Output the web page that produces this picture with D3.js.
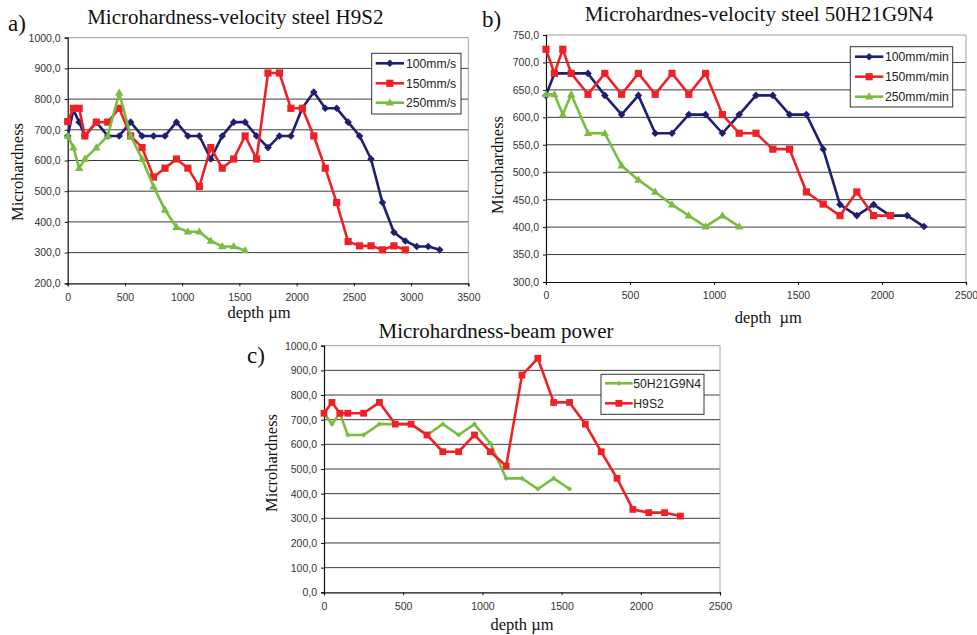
<!DOCTYPE html>
<html><head><meta charset="utf-8">
<script src="https://cdn.jsdelivr.net/npm/d3@7"></script>
<style>body{margin:0;background:#fff}</style>
</head><body>
<svg id="chart" width="977" height="635"></svg>
<script>
// ---------- DATA ----------
// Chart a) Microhardness-velocity steel H9S2
const aX100 = [0,50,100,150,250,350,450,550,650,750,850,950,1050,1150,1250,1350,1450,1550,1650,1750,1850,1950,2050,2150,2250,2350,2450,2550,2650,2750,2850,2950,3050,3150,3250];
const aY100 = [680,765,725,680,725,680,680,725,680,680,680,725,680,680,605,680,725,725,680,642,680,680,770,823,770,770,725,680,605,463,366,338,320,320,309];
const aX150 = [0,50,100,150,250,350,450,550,650,750,850,950,1050,1150,1250,1350,1450,1550,1650,1750,1850,1950,2050,2150,2250,2350,2450,2550,2650,2750,2850,2950];
const aY150 = [727,770,770,680,725,725,770,680,642,546,575,605,575,515,642,575,605,680,605,885,885,770,770,680,575,463,336,322,322,309,322,309];
const aX250 = [0,50,100,150,250,350,450,550,650,750,850,950,1050,1150,1250,1350,1450,1550];
const aY250 = [680,642,575,605,642,680,820,680,605,515,439,383,368,368,338,320,320,307];
const aLabels = ["100mm/s","150mm/s","250mm/s"];
const aXTicks = [0,500,1000,1500,2000,2500,3000,3500];
const aYTicks = [200,300,400,500,600,700,800,900,1000];

// Chart b) Microhardnes-velocity steel 50H21G9N4
const bX100 = [0,50,150,250,350,450,550,650,750,850,950,1050,1150,1250,1350,1450,1550,1650,1750,1850,1950,2050,2150,2250];
const bY100 = [640,680,680,680,640,605,640,571,571,605,605,571,605,640,640,605,605,542,441,421,441,421,421,401];
const bX150 = [0,50,100,150,250,350,450,550,650,750,850,950,1050,1150,1250,1350,1450,1550,1650,1750,1850,1950,2050];
const bY150 = [724,680,724,680,642,680,642,680,642,680,642,680,605,571,571,542,542,464,442,421,464,421,421];
const bX250 = [0,50,100,150,250,350,450,550,650,750,850,950,1050,1150];
const bY250 = [642,642,605,642,571,571,512,486,464,441,421,401,421,401];
const bLabels = ["100mm/min","150mm/min","250mm/min"];
const bXTicks = [0,500,1000,1500,2000,2500];
const bYTicks = [300,350,400,450,500,550,600,650,700,750];

// Chart c) Microhardness-beam power
const cXG = [0,50,100,150,250,350,450,550,650,750,850,950,1050,1150,1250,1350,1450,1550];
const cYG = [726,682,726,638,638,682,682,682,638,682,638,682,604,462,462,419,462,419];
const cXR = [0,50,100,150,250,350,450,550,650,750,850,950,1050,1150,1250,1350,1450,1550,1650,1750,1850,1950,2050,2150,2250];
const cYR = [726,770,726,726,726,770,682,682,638,570,570,638,570,512,881,949,770,770,682,570,462,336,323,323,309];
const cLabels = ["50H21G9N4","H9S2"];
const cXTicks = [0,500,1000,1500,2000,2500];
const cYTicks = [0,100,200,300,400,500,600,700,800,900,1000];

// ---------- STYLE ----------
const BLUE = "#1f1f72", RED = "#ee2226", GREEN = "#78bd3f";
const SANS = "'Liberation Sans', Arial, sans-serif";
const SERIF = "'Liberation Serif', 'Times New Roman', serif";
const svg = d3.select("#chart");

function markerPath(shape, r) {
  if (shape === "diamond") return `M0,${-r}L${r},0L0,${r}L${-r},0Z`;
  if (shape === "square") return `M${-r},${-r}H${r}V${r}H${-r}Z`;
  if (shape === "triangle") return `M0,${-r*1.15}L${r*1.1},${r*0.75}L${-r*1.1},${r*0.75}Z`;
  return "";
}
const fmt = v => d3.format(".1f")(v).replace(".", ",");

function panel(p) {
  const x = d3.scaleLinear().domain(p.xDomain).range([p.left, p.right]);
  const y = d3.scaleLinear().domain(p.yDomain).range([p.bottom, p.top]);
  const g = svg.append("g");

  // grid lines
  g.selectAll(".grid").data(p.yTicks.slice(1)).join("line")
    .attr("x1", p.left).attr("x2", p.right)
    .attr("y1", d => y(d)).attr("y2", d => y(d))
    .attr("stroke", (d,i) => d === p.yDomain[1] ? "#9a9a9a" : "#3c3c3c").attr("stroke-width", 1);
  // right border
  g.append("line").attr("x1", p.right).attr("x2", p.right).attr("y1", p.top).attr("y2", p.bottom)
    .attr("stroke", "#a0a0a0");

  const ya = g.append("g").attr("transform", `translate(${p.left},0)`)
    .call(d3.axisLeft(y).tickValues(p.yTicks).tickSize(3).tickPadding(4).tickFormat(fmt));
  const xa = g.append("g").attr("transform", `translate(0,${p.bottom})`)
    .call(d3.axisBottom(x).tickValues(p.xTicks).tickSize(3).tickPadding(7).tickFormat(d3.format("d")));
  [ya, xa].forEach(a => {
    a.select(".domain").attr("stroke", "#111").attr("stroke-width", 1.2);
    a.selectAll(".tick line").attr("stroke", "#111");
    a.selectAll("text").attr("font-family", SANS).attr("font-size", "10.5px").attr("fill", "#333");
  });

  // series
  p.series.forEach(s => {
    const pts = s.xs.map((v, i) => [v, s.ys[i]]);
    g.append("path").datum(pts)
      .attr("d", d3.line().x(d => x(d[0])).y(d => y(d[1])))
      .attr("fill", "none").attr("stroke", s.color).attr("stroke-width", 2.6)
      .attr("stroke-linejoin", "round");
    g.selectAll(null).data(pts).join("path")
      .attr("transform", d => `translate(${x(d[0])},${y(d[1])})`)
      .attr("d", markerPath(s.shape, s.r)).attr("fill", s.color);
  });

  // legend
  const L = p.legend;
  g.append("rect").attr("x", L.x).attr("y", L.y).attr("width", L.w).attr("height", L.h)
    .attr("fill", "#fff").attr("stroke", "#333").attr("stroke-width", 1);
  p.series.forEach((s, i) => {
    const ly = L.rows[i];
    g.append("line").attr("x1", L.l1).attr("x2", L.l2).attr("y1", ly).attr("y2", ly)
      .attr("stroke", s.color).attr("stroke-width", 2.6);
    g.append("path").attr("transform", `translate(${(L.l1 + L.l2) / 2},${ly})`)
      .attr("d", markerPath(s.shape, s.r)).attr("fill", s.color);
    g.append("text").attr("x", L.tx).attr("y", ly + 4.3).text(s.label)
      .attr("font-family", SANS).attr("font-size", "12.2px").attr("fill", "#222");
  });

  // texts
  g.append("text").attr("x", p.title[1]).attr("y", p.title[2]).attr("text-anchor", "middle")
    .attr("font-family", SERIF).attr("font-size", p.title[3] + "px").attr("fill", "#111").text(p.title[0]);
  g.append("text").attr("x", p.tag[1]).attr("y", p.tag[2])
    .attr("font-family", SERIF).attr("font-size", "23px").attr("fill", "#111").text(p.tag[0]);
  g.append("text").attr("transform", `translate(${p.yLab[0]},${p.yLab[1]}) rotate(-90)`)
    .attr("text-anchor", "middle").attr("font-family", SERIF).attr("font-size", "16.5px")
    .attr("fill", "#111").text("Microhardness");
  g.append("text").attr("x", p.xLab[1]).attr("y", p.xLab[2]).attr("text-anchor", "middle")
    .attr("font-family", SERIF).attr("font-size", "16.5px").attr("fill", "#111")
    .attr("xml:space", "preserve").style("white-space", "pre").text(p.xLab[0]);
}

panel({
  left: 67.7, right: 468.3, top: 37.7, bottom: 283.3,
  xDomain: [0, 3500], yDomain: [200, 1000], xTicks: aXTicks, yTicks: aYTicks,
  series: [
    {xs: aX100, ys: aY100, color: BLUE, shape: "diamond", r: 3.8, label: aLabels[0]},
    {xs: aX150, ys: aY150, color: RED, shape: "square", r: 3.6, label: aLabels[1]},
    {xs: aX250, ys: aY250, color: GREEN, shape: "triangle", r: 3.8, label: aLabels[2]}
  ],
  legend: {x: 371.7, y: 53.3, w: 89.3, h: 60.7, rows: [63.3, 83.3, 102.7], l1: 375.7, l2: 404, tx: 406},
  title: ["Microhardness-velocity steel H9S2", 235.3, 24, 21],
  tag: ["a)", 8, 31],
  yLab: [23.3, 172],
  xLab: ["depth µm", 259, 318]
});

panel({
  left: 546, right: 966, top: 35, bottom: 282,
  xDomain: [0, 2500], yDomain: [300, 750], xTicks: bXTicks, yTicks: bYTicks,
  series: [
    {xs: bX100, ys: bY100, color: BLUE, shape: "diamond", r: 3.8, label: bLabels[0]},
    {xs: bX150, ys: bY150, color: RED, shape: "square", r: 3.6, label: bLabels[1]},
    {xs: bX250, ys: bY250, color: GREEN, shape: "triangle", r: 3.8, label: bLabels[2]}
  ],
  legend: {x: 850.3, y: 46.7, w: 102.4, h: 60.3, rows: [56.7, 76.7, 96.7], l1: 855, l2: 883.3, tx: 885},
  title: ["Microhardnes-velocity steel 50H21G9N4", 759, 21, 21],
  tag: ["b)", 482, 27],
  yLab: [502.5, 165],
  xLab: ["depth  µm", 768.3, 323]
});

panel({
  left: 324, right: 720, top: 345.7, bottom: 592.3,
  xDomain: [0, 2500], yDomain: [0, 1000], xTicks: cXTicks, yTicks: cYTicks,
  series: [
    {xs: cXG, ys: cYG, color: GREEN, shape: "diamond", r: 2.6, label: cLabels[0]},
    {xs: cXR, ys: cYR, color: RED, shape: "square", r: 3.4, label: cLabels[1]}
  ],
  legend: {x: 601, y: 374.3, w: 103, h: 40, rows: [383.3, 403.3], l1: 605, l2: 632.7, tx: 633.3},
  title: ["Microhardness-beam power", 496, 338, 21],
  tag: ["c)", 247, 363],
  yLab: [276.5, 463],
  xLab: ["depth µm", 522, 629.5]
});
</script>
</body></html>
